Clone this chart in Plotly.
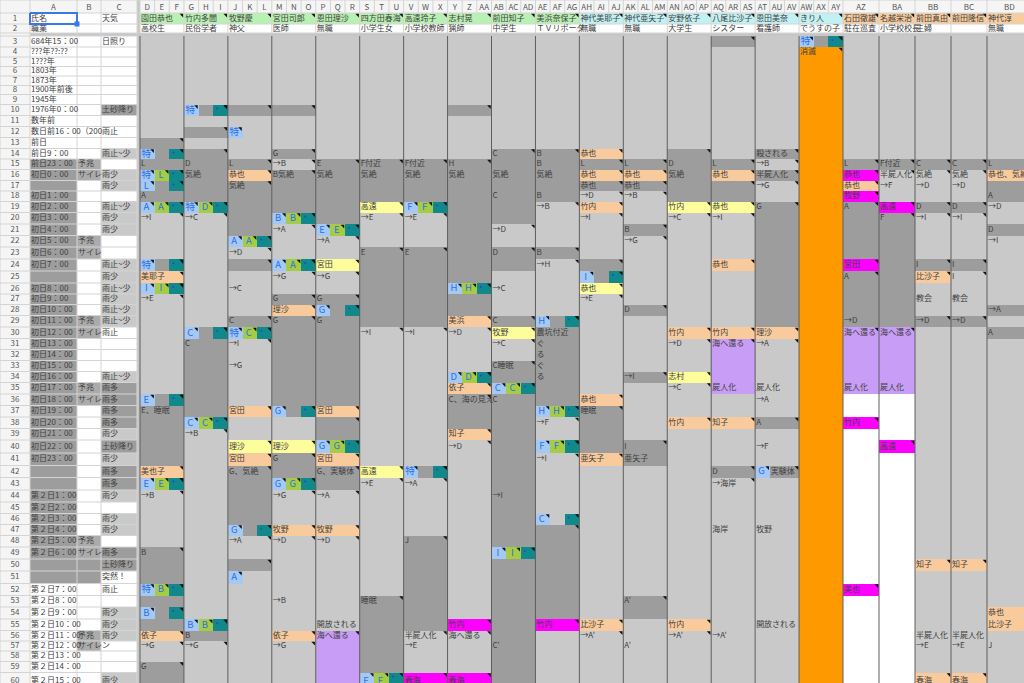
import plotly.graph_objects as go

# ---------------- data ----------------
names = ["園田恭也", "竹内多聞", "牧野慶", "宮田司郎", "恩田理沙", "四方田春海", "高遠玲子",
         "志村晃", "前田知子", "美浜奈保子", "神代美耶子", "神代亜矢子", "安野依子", "八尾比沙子",
         "恩田美奈", "きり人", "石田徹雄", "名越栄治", "前田真由", "前田隆信", "神代淳"]
jobs = ["高校生", "民俗学者", "神父", "医師", "無職", "小学生女", "小学校教師", "猟師", "中学生",
        "ＴＶリポータ", "無職", "無職", "大学生", "シスター", "看護師", "でうすの子", "駐在巡査",
        "小学校校長", "主婦", "", "無職"]
name_group = "GGGGGGGGGGCCCCCCPPPPP"

time_col = {1: "氏名", 2: "職業", 3: "684年15：00", 4: "???年??:??", 5: "1???年", 6: "1803年",
            7: "1873年", 8: "1900年前後", 9: "1945年", 10: "1976年0：00", 11: "数年前",
            12: "数日前16：00（200", 13: "前日", 14: "前日9：00", 15: "前日23：00", 16: "初日0：00",
            18: "初日1：00", 19: "初日2：00", 20: "初日3：00", 21: "初日4：00", 22: "初日5：00",
            23: "初日6：00", 24: "初日7：00", 26: "初日8：00", 27: "初日9：00", 28: "初日10：00",
            29: "初日11：00", 30: "初日12：00", 31: "初日13：00", 32: "初日14：00", 33: "初日15：00",
            34: "初日16：00", 35: "初日17：00", 36: "初日18：00", 37: "初日19：00", 38: "初日20：00",
            39: "初日21：00", 40: "初日22：00", 41: "初日23：00", 44: "第２日1：00", 45: "第２日2：00",
            46: "第２日3：00", 47: "第２日4：00", 48: "第２日5：00", 49: "第２日6：00",
            52: "第２日7：00", 53: "第２日8：00", 54: "第２日9：00", 55: "第２日10：00",
            56: "第２日11：00", 57: "第２日12：00", 58: "第２日13：00", 59: "第２日14：00",
            60: "第２日15：00"}
siren_col = {15: "予兆", 16: "サイレ", 22: "予兆", 23: "サイレ", 29: "予兆", 30: "サイレ",
             35: "予兆", 36: "サイレ", 48: "予兆", 49: "サイレ", 56: "予兆", 57: "サイレン"}
weather_col = {1: "天気", 3: "日照り", 10: "土砂降り", 12: "雨止", 14: "雨止~少", 16: "雨少",
               17: "雨少", 19: "雨止~少", 20: "雨少", 21: "雨少", 24: "雨止~少", 25: "雨少",
               26: "雨止~少", 27: "雨少", 28: "雨止~少", 29: "雨止~少", 30: "雨止", 34: "雨止~少",
               35: "雨多", 36: "雨多", 37: "雨多", 38: "雨多", 39: "雨少", 40: "土砂降り", 41: "雨少",
               42: "雨多", 43: "雨多", 44: "雨少", 46: "雨少", 47: "雨少", 49: "雨多", 50: "土砂降り",
               51: "突然！", 52: "雨止", 54: "雨少", 55: "雨少", 56: "雨少", 60: "雨少"}
weather_shade = {10: "d", 14: "l", 16: "l", 17: "l", 19: "l", 20: "l", 21: "l", 24: "l", 25: "l",
                 26: "l", 27: "l", 28: "l", 29: "l", 34: "l", 35: "d", 36: "d", 37: "d", 38: "d",
                 39: "l", 40: "d", 41: "l", 42: "d", 43: "d", 44: "l", 46: "l", 47: "l", 49: "d",
                 50: "d", 54: "l", 55: "l", 56: "l", 60: "l"}

# per-character timeline: (first row, last row, shade)
bands = [
    [(3, 12, "l"), (13, 19, "d"), (20, 23, "l"), (24, 24, "d"), (25, 25, "p"), (26, 26, "d"),
     (27, 35, "l"), (36, 41, "d"), (42, 42, "p"), (43, 43, "d"), (44, 48, "l"), (49, 55, "d"),
     (56, 56, "p"), (57, 58, "l"), (59, 60, "d")],
    [(3, 9, "l"), (10, 10, "d"), (11, 11, "l"), (12, 12, "d"), (13, 13, "l"), (14, 19, "d"),
     (20, 29, "l"), (30, 38, "d"), (39, 54, "l"), (55, 56, "d"), (57, 60, "l")],
    [(3, 9, "l"), (10, 10, "d"), (11, 14, "l"), (15, 15, "d"), (16, 16, "p"), (17, 22, "d"),
     (23, 23, "l"), (24, 24, "d"), (25, 28, "l"), (29, 30, "d"), (31, 36, "l"), (37, 37, "p"),
     (38, 39, "l"), (40, 40, "y"), (41, 41, "p"), (42, 47, "d"), (48, 49, "l"), (50, 50, "d"),
     (51, 60, "l")],
    [(3, 9, "l"), (10, 10, "d"), (11, 13, "l"), (14, 14, "d"), (15, 15, "l"), (16, 20, "d"),
     (21, 23, "l"), (24, 24, "d"), (25, 26, "l"), (27, 27, "d"), (28, 28, "p"), (29, 37, "d"),
     (38, 39, "l"), (40, 40, "y"), (41, 43, "d"), (44, 46, "l"), (47, 47, "p"), (48, 55, "l"),
     (56, 56, "p"), (57, 60, "l")],
    [(3, 14, "l"), (15, 21, "d"), (22, 23, "l"), (24, 24, "y"), (25, 26, "l"), (27, 36, "d"),
     (37, 37, "p"), (38, 40, "d"), (41, 41, "p"), (42, 43, "d"), (44, 46, "l"), (47, 47, "p"),
     (48, 55, "l"), (56, 60, "v")],
    [(3, 14, "l"), (15, 18, "d"), (19, 19, "y"), (20, 22, "l"), (23, 29, "d"), (30, 41, "l"),
     (42, 42, "y"), (43, 52, "l"), (53, 60, "d")],
    [(3, 14, "l"), (15, 19, "d"), (20, 22, "l"), (23, 29, "d"), (30, 41, "l"), (42, 42, "d"),
     (43, 47, "l"), (48, 55, "d"), (56, 59, "l"), (60, 60, "m")],
    [(3, 9, "l"), (10, 10, "d"), (11, 14, "l"), (15, 28, "d"), (29, 29, "p"), (30, 33, "l"),
     (34, 34, "d"), (35, 35, "p"), (36, 38, "d"), (39, 39, "p"), (40, 54, "l"), (55, 55, "m"),
     (56, 59, "l"), (60, 60, "m")],
    [(3, 13, "l"), (14, 20, "d"), (21, 22, "l"), (23, 24, "d"), (25, 28, "l"), (29, 29, "d"),
     (30, 30, "y"), (31, 32, "l"), (33, 60, "d")],
    [(3, 13, "l"), (14, 18, "d"), (19, 22, "l"), (23, 23, "d"), (24, 28, "l"), (29, 37, "d"),
     (38, 39, "l"), (40, 40, "d"), (41, 46, "l"), (47, 54, "d"), (55, 55, "m"), (56, 60, "l")],
    [(3, 13, "l"), (14, 14, "p"), (15, 15, "d"), (16, 16, "p"), (17, 17, "d"), (18, 18, "l"),
     (19, 19, "p"), (20, 23, "l"), (24, 25, "d"), (26, 26, "y"), (27, 35, "l"), (36, 36, "p"),
     (37, 40, "d"), (41, 41, "p"), (42, 54, "l"), (55, 55, "p"), (56, 60, "l")],
    [(3, 14, "l"), (15, 15, "d"), (16, 16, "p"), (17, 17, "d"), (18, 20, "l"), (21, 21, "d"),
     (22, 27, "l"), (28, 28, "d"), (29, 33, "l"), (34, 34, "d"), (35, 39, "l"), (40, 41, "d"),
     (42, 52, "l"), (53, 54, "d"), (55, 60, "l")],
    [(3, 13, "l"), (14, 18, "d"), (19, 19, "y"), (20, 29, "l"), (30, 30, "p"), (31, 33, "l"),
     (34, 34, "y"), (35, 37, "l"), (38, 38, "p"), (39, 54, "l"), (55, 55, "p"), (56, 60, "l")],
    [(3, 3, "d"), (4, 14, "l"), (15, 15, "d"), (16, 16, "p"), (17, 18, "d"), (19, 19, "y"),
     (20, 23, "l"), (24, 24, "p"), (25, 29, "l"), (30, 30, "p"), (31, 35, "v"), (36, 37, "l"),
     (38, 38, "p"), (39, 41, "l"), (42, 42, "d"), (43, 60, "l")],
    [(3, 13, "l"), (14, 14, "d"), (15, 15, "l"), (16, 16, "d"), (17, 18, "l"), (19, 29, "d"),
     (30, 30, "p"), (31, 37, "l"), (38, 38, "d"), (39, 41, "l"), (42, 42, "d"), (43, 60, "l")],
    [(3, 3, "d"), (4, 60, "o")],
    [(3, 14, "l"), (15, 15, "d"), (16, 16, "m"), (17, 17, "p"), (18, 18, "m"), (19, 23, "d"),
     (24, 24, "m"), (25, 29, "d"), (30, 35, "v"), (36, 37, "w"), (38, 38, "m"), (39, 51, "w"),
     (52, 52, "m"), (53, 60, "w")],
    [(3, 14, "l"), (15, 15, "d"), (16, 18, "l"), (19, 19, "m"), (20, 29, "d"), (30, 35, "v"),
     (36, 39, "w"), (40, 40, "m"), (41, 60, "w")],
    [(3, 14, "l"), (15, 15, "d"), (16, 18, "l"), (19, 19, "d"), (20, 23, "l"), (24, 24, "d"),
     (25, 25, "p"), (26, 28, "l"), (29, 29, "d"), (30, 49, "l"), (50, 50, "p"), (51, 59, "l"),
     (60, 60, "p")],
    [(3, 14, "l"), (15, 15, "d"), (16, 18, "l"), (19, 19, "d"), (20, 23, "l"), (24, 24, "d"),
     (25, 28, "l"), (29, 29, "d"), (30, 49, "l"), (50, 50, "p"), (51, 59, "l"), (60, 60, "p")],
    [(3, 14, "l"), (15, 15, "d"), (16, 16, "p"), (17, 18, "d"), (19, 20, "l"), (21, 21, "d"),
     (22, 27, "l"), (28, 28, "d"), (29, 29, "l"), (30, 30, "d"), (31, 53, "l"), (54, 55, "p"),
     (56, 60, "l")],
]

# labels: text written from the block's first column ("+" prefix: from its second column)
labels = [
    {15: "L", 18: "A", 20: "→I", 25: "美耶子", 27: "→E", 37: "E、睡眠", 42: "美也子", 44: "→B",
     49: "B", 56: "依子", 57: "→G", 59: "G"},
    {15: "D", 16: "気絶", 20: "→C", 31: "C", 39: "→B", 56: "B", 57: "→G"},
    {15: "L", 16: "恭也", 17: "気絶", 23: "→D", 26: "→C", 29: "C", 31: "→I", 33: "→G",
     37: "宮田", 40: "理沙", 41: "宮田", 42: "G、気絶", 48: "→A"},
    {14: "G", 15: "→B", 16: "B気絶", 21: "→A", 25: "→G", 27: "G", 28: "理沙", 29: "G",
     40: "理沙", 41: "G", 44: "→G", 47: "牧野", 48: "→D", 53: "→B", 56: "依子", 57: "→G"},
    {15: "E", 16: "気絶", 22: "→A", 24: "宮田", 25: "→G", 27: "G", 29: "G", 37: "宮田",
     41: "宮田", 42: "G、実験体", 44: "→A", 47: "牧野", 48: "→D", 55: "開放される", 56: "海へ還る"},
    {15: "F付近", 16: "気絶", 19: "高遠", 20: "→E", 23: "E", 30: "→I", 42: "高遠", 43: "→E",
     53: "睡眠"},
    {15: "F付近", 16: "気絶", 20: "→E", 23: "E", 30: "→I", 43: "→A", 48: "J", 56: "半屍人化",
     57: "→E", 60: "春海"},
    {15: "H", 16: "気絶", 29: "美浜", 30: "→D", 35: "依子", 36: "C、海の見え", 39: "知子",
     40: "→D", 55: "竹内", 56: "海へ還る", 60: "春海"},
    {14: "C", 16: "気絶", 18: "C", 21: "→D", 23: "D", 26: "→C", 29: "C", 30: "牧野",
     31: "→C", 33: "C睡眠", 36: "C", 44: "→I", 57: "C'"},
    {14: "B", 15: "B", 16: "気絶", 18: "B", 19: "→B", 23: "B", 24: "→H", 30: "農坑付近",
     31: "ぐ", 32: "る", 33: "ぐ", 34: "る", 38: "→F", 41: "→I", 55: "竹内"},
    {14: "恭也", 15: "L", 16: "恭也", 17: "恭也", 18: "→D", 19: "竹内", 20: "→I", 26: "恭也",
     27: "→E", 36: "恭也", 37: "睡眠", 41: "亜矢子", 55: "比沙子", 56: "→A'"},
    {15: "L", 16: "恭也", 17: "恭也", 18: "→B", 21: "B", 22: "→G", 28: "D", 34: "→I",
     40: "I", 41: "亜矢子", 53: "A'", 57: "A'"},
    {15: "D", 16: "気絶", 19: "竹内", 20: "→C", 30: "竹内", 31: "→D", 34: "志村",
     35: "→C", 38: "竹内", 55: "竹内", 56: "→A'"},
    {15: "L", 16: "恭也", 19: "恭也", 20: "→I", 24: "恭也", 30: "竹内", 31: "海へ還る",
     35: "屍人化", 38: "知子", 42: "D", 43: "→海岸", 47: "海岸", 56: "→A'"},
    {14: "殺される", 15: "→B", 16: "半屍人化", 17: "→G", 19: "G", 30: "理沙", 31: "→A",
     35: "屍人化", 36: "→A", 38: "A", 40: "→F", 42: "+実験体", 47: "牧野", 55: "開放される"},
    {4: "消滅"},
    {15: "L", 16: "恭也", 17: "恭也", 18: "牧野", 19: "A", 24: "宮田", 25: "A", 29: "→D",
     30: "海へ還る", 35: "屍人化", 38: "竹内", 52: "美也"},
    {15: "F付近", 16: "半屍人化", 17: "→F", 19: "高遠", 20: "F", 30: "海へ還る", 35: "屍人化",
     40: "高遠"},
    {15: "C", 16: "気絶", 17: "→D", 19: "D", 20: "→I", 24: "I", 25: "比沙子", 27: "教会",
     29: "→D", 50: "知子", 56: "半屍人化", 57: "→E", 60: "春海"},
    {15: "C", 16: "気絶", 17: "→D", 19: "D", 20: "→I", 24: "I", 25: "I", 27: "教会",
     29: "→D", 50: "知子", 56: "半屍人化", 57: "→E", 60: "春海"},
    {15: "L", 16: "恭也、気絶", 18: "A", 19: "→D", 21: "D", 22: "→I", 28: "→A", 30: "A",
     54: "恭也", 55: "比沙子", 57: "J"},
]

# icon rows: first char blue box, second char green box ('.' = none), third '*' teal box
icons = [
    {14: "特.*", 16: "特L*", 17: "L.*", 19: "AA*", 24: "特.*", 26: "II*", 36: "E.*",
     43: "EE*", 52: "特B*", 54: "B.*"},
    {10: "特.*", 19: "特D*", 30: "C.*", 38: "CC*", 55: "BB*"},
    {12: "特..", 22: "AA*", 30: "特C*", 47: "G.*", 51: "A.."},
    {20: "BB*", 24: "AA*", 37: "G.*", 43: "GG*"},
    {21: "EE*", 28: "G.*", 40: "GG*"},
    {60: "EE*"},
    {19: "FF*", 42: "特.*"},
    {26: "HH*", 34: "DD*"},
    {35: "CC*", 49: "II*"},
    {29: "H.*", 37: "HH*", 40: "FF*", 46: "C.*"},
    {25: "I.*"},
    {},
    {},
    {},
    {42: "G.."},
    {3: "特.*"},
    {}, {}, {}, {}, {},
]

# ---------------- layout constants ----------------
W, H = 1024, 683
shade_colors = {"w": "#ffffff", "l": "#c9c9c9", "d": "#9d9d9d", "p": "#f9cb9c", "y": "#fdfd9c",
                "m": "#ff00ff", "v": "#c89df6", "o": "#ff9900", "b": "#a4c9f4", "g": "#a6cc45",
                "t": "#11898b", "h": "#f5f5f5", "G": "#b8f1b2", "C": "#c2f1f4", "P": "#f9cc9d",
                "f": "#c6c6c6", "k": "#ababab"}
codes = list(shade_colors)

alpha = "ABCDEFGHIJKLMNOPQRSTUVWXYZ"
all_letters = list(alpha) + ["A" + c for c in alpha] + ["B" + c for c in "ABCD"]

narrow = (843 - 140) / 48
x_edges = [0, 30, 77, 101, 137, 140] + [140 + narrow * (i + 1) for i in range(48)] + \
          [879, 915, 951, 987, 1032]
row_centers = [42, 52, 62, 71, 81, 90, 99, 110, 121, 132, 143, 154, 164, 175, 186, 196, 207, 218,
               230, 241, 253, 265, 277, 289, 299, 310, 321, 333, 344, 355, 366, 377, 388, 400, 411,
               423, 434, 446, 460, 471, 484, 496, 508, 519, 530, 541, 553, 565, 577, 590, 601, 613,
               625, 636, 646, 656, 667, 678]
y_edges = [0, 13, 24, 33, 36]
for a, b in zip(row_centers[:-1], row_centers[1:]):
    y_edges.append((a + b) / 2)
y_edges.append(690)

ncol = len(x_edges) - 1
nrow = len(y_edges) - 1


def row_index(r):
    # spreadsheet row -> heatmap row index (row 0 = column letters, 3 = frozen divider)
    return r if r <= 2 else r + 1


grid = [["w"] * ncol for _ in range(nrow)]
for c in range(ncol):
    grid[0][c] = "h"
    grid[3][c] = "f"
for r in range(nrow):
    grid[r][0] = "h"
    grid[r][4] = "f"

# column A/B/C shading
for r in range(15, 52):
    grid[row_index(r)][1] = "d"
for r in (50, 51):
    grid[row_index(r)][2] = "d"
for r in siren_col:
    grid[row_index(r)][2] = "k"
for r, s in weather_shade.items():
    grid[row_index(r)][3] = s

# character blocks
block_first_col = []
corner = []  # comment-marker cells (col index, row index)
for k in range(21):
    if k < 16:
        c0, width = 5 + 3 * k, 3
    else:
        c0, width = 53 + (k - 16), 1
    block_first_col.append((c0, width))
    grid[row_index(1)][c0:c0 + width] = [name_group[k]] * width
    corner.append((c0 + width - 1, row_index(1)))
    for r0, r1, s in bands[k]:
        for r in range(r0, r1 + 1):
            for c in range(c0, c0 + width):
                grid[row_index(r)][c] = s
        if s == "d" or r0 in labels[k]:
            corner.append((c0 + width - 1, row_index(r0)))
    for r, spec in icons[k].items():
        for j, code in enumerate("bgt"):
            if spec[j] != ".":
                grid[row_index(r)][c0 + j] = code
                corner.append((c0 + j, row_index(r)))

z = [[codes.index(s) for s in row] for row in grid]
n = len(codes)
colorscale = []
for i, s in enumerate(codes):
    colorscale.append([i / n, shade_colors[s]])
    colorscale.append([(i + 1) / n, shade_colors[s]])

fig = go.Figure()
fig.add_trace(go.Heatmap(z=z, x=x_edges, y=y_edges, colorscale=colorscale, zmin=-0.5,
                         zmax=n - 0.5, showscale=False, hoverinfo="skip"))


def xc(c):
    return (x_edges[c] + x_edges[c + 1]) / 2


def yc(r):
    return (y_edges[r] + y_edges[r + 1]) / 2


# grid lines
lx, ly = [], []
dx, dy = [], []
for r in range(nrow + 1):
    y = y_edges[r]
    lx += [0, W if r <= 3 else 137, None]
    ly += [y, y, None]
for c in range(ncol + 1):
    x = x_edges[c]
    lx += [x, x, None]
    ly += [0, 13, None]
for x in x_edges[:5]:
    lx += [x, x, None]
    ly += [13, H, None]
for k in range(22):
    x = x_edges[block_first_col[k][0]] if k < 21 else x_edges[-1]
    lx += [x, x, None]
    ly += [13, 33, None]
    dx += [x, x, None]
    dy += [36, H, None]
fig.add_trace(go.Scatter(x=lx, y=ly, mode="lines", line=dict(color="#d4d4d4", width=1),
                         hoverinfo="skip"))
fig.add_trace(go.Scatter(x=dx, y=dy, mode="lines", line=dict(color="#5e5e5e", width=1),
                         hoverinfo="skip"))

# header letters & row numbers
hx, hy, ht = [], [], []
for i, L in enumerate(all_letters):
    hx.append(xc(i + 1 if i < 3 else i + 2))
    hy.append(yc(0) + 1)
    ht.append(L)
for r in range(1, 61):
    hx.append(15)
    hy.append(yc(row_index(r)))
    ht.append(str(r))
fig.add_trace(go.Scatter(x=hx, y=hy, text=ht, mode="text", textposition="middle center",
                         textfont=dict(family="Noto Sans CJK JP", size=8, color="#555"),
                         hoverinfo="skip"))

# cell texts (left aligned)
tx, ty, tt = [], [], []


def put(c, r, s):
    if s.startswith("+"):
        c, s = c + 1, s[1:]
    tx.append(x_edges[c] + 1)
    ty.append(yc(row_index(r)))
    tt.append(s)


for r, s in time_col.items():
    put(1, r, s)
for r, s in siren_col.items():
    put(2, r, s)
for r, s in weather_col.items():
    put(3, r, s)
for k in range(21):
    c0, width = block_first_col[k]
    put(c0, 1, names[k])
    put(c0, 2, jobs[k])
    for r, s in labels[k].items():
        put(c0, r, s)
fig.add_trace(go.Scatter(x=tx, y=ty, text=tt, mode="text", textposition="middle right",
                         textfont=dict(family="Noto Sans CJK JP", size=8, color="#404040"),
                         hoverinfo="skip"))

# icon letters and the small mark on teal boxes
ix, iy, it = [], [], []
stx, sty = [], []
for k in range(21):
    c0, width = block_first_col[k]
    for r, spec in icons[k].items():
        for j in range(3):
            ch = spec[j]
            if ch == ".":
                continue
            if j == 2:
                stx.append(x_edges[c0 + j] + 4)
                sty.append(y_edges[row_index(r)] + 4)
            else:
                it.append(ch)
                ix.append(xc(c0 + j) - 1)
                iy.append(yc(row_index(r)) + 0.5)
fig.add_trace(go.Scatter(x=ix, y=iy, text=it, mode="text", textposition="middle center",
                         textfont=dict(family="Noto Sans CJK JP", size=9.5, color="#2f6fe4"),
                         hoverinfo="skip"))
fig.add_trace(go.Scatter(x=stx, y=sty, mode="markers",
                         marker=dict(symbol="circle", size=2, color="#2448d8"),
                         hoverinfo="skip"))

# comment markers (black corner triangles)
fig.add_trace(go.Scatter(x=[x_edges[c + 1] - 2 for c, r in corner],
                         y=[y_edges[r] + 2 for c, r in corner], mode="markers",
                         marker=dict(symbol="triangle-ne", size=4, color="#111"),
                         hoverinfo="skip"))

# selected cell A1
fig.add_trace(go.Scatter(x=[30, 77, 77, 30, 30], y=[13, 13, 24, 24, 13], mode="lines",
                         line=dict(color="#3b78e7", width=2), hoverinfo="skip"))
fig.add_trace(go.Scatter(x=[77], y=[24], mode="markers",
                         marker=dict(symbol="square", size=5, color="#3b78e7"), hoverinfo="skip"))

fig.update_layout(width=W, height=H, margin=dict(l=0, r=0, t=0, b=0), showlegend=False,
                  plot_bgcolor="white", paper_bgcolor="white",
                  xaxis=dict(range=[0, W], visible=False, fixedrange=True),
                  yaxis=dict(range=[H, 0], visible=False, fixedrange=True))
fig.write_html("out.html", config={"displayModeBar": False},
               post_script="document.body.style.margin='0';")
